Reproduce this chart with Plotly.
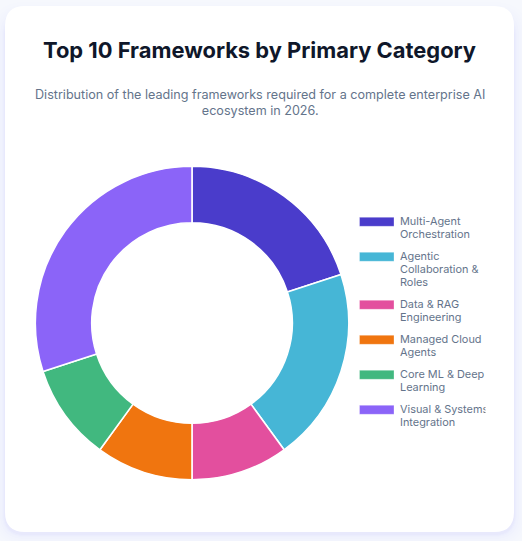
import plotly.graph_objects as go

categories = [["Multi-Agent", "Orchestration"], ["Agentic", "Collaboration &", "Roles"], ["Data & RAG", "Engineering"],
              ["Managed Cloud", "Agents"], ["Core ML & Deep", "Learning"], ["Visual & Systems", "Integration"]]
values = [2, 2, 1, 1, 1, 3]
colors = ["#4a3ccb", "#46b6d6", "#e34f9e", "#f0750f", "#41b87f", "#8b64f8"]
title = "Top 10 Frameworks by Primary Category"
subtitle = "Distribution of the leading frameworks required for a complete enterprise AI<br>ecosystem in 2026."

W, H = 522, 541
FONT = "Inter"
px = lambda v: v / W
py = lambda v: 1 - v / H

fig = go.Figure(go.Pie(
    labels=[" ".join(c) for c in categories], values=values, sort=False, direction="clockwise",
    rotation=0, hole=0.64, textinfo="none", hoverinfo="label+value",
    marker=dict(colors=colors, line=dict(color="#ffffff", width=1.6)),
    domain=dict(x=[px(35.3), px(348.7)], y=[py(479.7), py(166.3)]),
    showlegend=False,
))

def rrect(x0, y0, x1, y1, r):
    return (f"M{x0+r},{y0} L{x1-r},{y0} Q{x1},{y0} {x1},{y0+r} L{x1},{y1-r} Q{x1},{y1} {x1-r},{y1} "
            f"L{x0+r},{y1} Q{x0},{y1} {x0},{y1-r} L{x0},{y0+r} Q{x0},{y0} {x0+r},{y0} Z")

shapes = []
# soft card shadow, offset downward
for g, a in [(14, .006), (11, .007), (9, .008), (7, .009), (5, .011), (3, .013), (2, .015), (1, .02)]:
    shapes.append(dict(type="path", xref="x", yref="y", layer="below",
                       path=rrect(5 - g, 6 - g + 10, 514 + g, 532 + g + 2, 20 + g),
                       fillcolor=f"rgba(79,70,229,{a})", line_width=0))
shapes.append(dict(type="path", xref="x", yref="y", layer="below", path=rrect(5, 6, 514, 532, 20),
                   fillcolor="#ffffff", line_width=0))

annotations = [
    dict(text=f"<b>{title}</b>", x=259.5, y=50, showarrow=False, font=dict(family=FONT, size=21.9, color="#0f172a"),
         xanchor="center", yanchor="middle"),
    dict(text=subtitle, x=260, y=102.5, showarrow=False, font=dict(family=FONT, size=12.6, color="#64748b"),
         xanchor="center", yanchor="middle", align="center"),
]

# legend drawn as swatch + wrapped label, one annotation per line for the tight line height
y = 217.3
for cat, col in zip(categories, colors):
    shapes.append(dict(type="rect", xref="x", yref="y", x0=359.5, x1=394, y0=y, y1=y + 9,
                       fillcolor=col, line=dict(color="rgba(255,255,255,.6)", width=.5), layer="above"))
    for i, line in enumerate(cat):
        annotations.append(dict(text=line, x=398, y=y + 4 + 13 * i, showarrow=False, xanchor="left",
                                yanchor="middle", font=dict(family=FONT, size=10.9, color="#64748b")))
    y += 13 * len(cat) + 9
annotations.append(dict(text=" ", x=484.5, y=409, width=8, height=16, showarrow=False, xanchor="left",
                        yanchor="middle", bgcolor="#ffffff", borderpad=0))

fig.update_layout(
    width=W, height=H, margin=dict(l=0, r=0, t=0, b=0), autosize=False,
    paper_bgcolor="#f6f8fd", plot_bgcolor="rgba(0,0,0,0)",
    xaxis=dict(range=[0, W], visible=False, fixedrange=True),
    yaxis=dict(range=[H, 0], visible=False, fixedrange=True),
    shapes=shapes, annotations=annotations,
)
fig.add_trace(go.Scatter(x=[], y=[], showlegend=False))
fig.write_html("out.html", config=dict(displayModeBar=False),
               post_script="document.body.style.margin='0';document.body.style.overflow='hidden';")
